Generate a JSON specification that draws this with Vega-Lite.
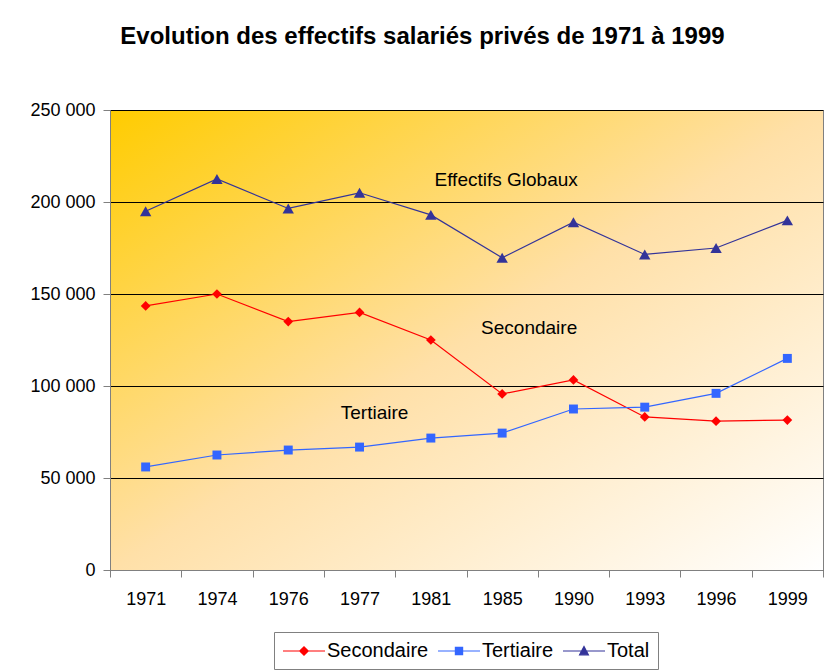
{
  "$schema": "https://vega.github.io/schema/vega-lite/v6.json",
  "width": 713,
  "height": 460,
  "autosize": {"type": "none"},
  "padding": {"left": 110, "top": 110, "right": 2, "bottom": 101},
  "background": "white",
  "config": {
    "font": "Liberation Sans",
    "locale": {"number": {"decimal": ",", "thousands": " ", "grouping": [3], "currency": ["", " €"]}},
    "view": {
      "stroke": "#808080",
      "strokeWidth": 1,
      "fill": {
        "gradient": "linear", "x1": 0, "y1": 0, "x2": 1, "y2": 1,
        "stops": [
          {"offset": 0, "color": "#FFCC00"},
          {"offset": 0.5, "color": "#FFE0A8"},
          {"offset": 1, "color": "#FFFFFF"}
        ]
      }
    },
    "axis": {
      "labelFont": "Liberation Sans", "labelFontSize": 18, "labelColor": "#000000",
      "domainColor": "#808080", "tickColor": "#808080", "tickSize": 7,
      "title": null
    }
  },
  "title": {
    "text": "Evolution des effectifs salariés privés de 1971 à 1999",
    "font": "Liberation Sans", "fontSize": 24, "fontWeight": "bold", "color": "#000000",
    "anchor": "middle", "dx": -44, "offset": 52
  },
  "data": {
    "values": [
      {"annee": "1971", "serie": "Secondaire", "valeur": 143500},
      {"annee": "1974", "serie": "Secondaire", "valeur": 150000},
      {"annee": "1976", "serie": "Secondaire", "valeur": 135000},
      {"annee": "1977", "serie": "Secondaire", "valeur": 140000},
      {"annee": "1981", "serie": "Secondaire", "valeur": 125000},
      {"annee": "1985", "serie": "Secondaire", "valeur": 95700},
      {"annee": "1990", "serie": "Secondaire", "valeur": 103300},
      {"annee": "1993", "serie": "Secondaire", "valeur": 83200},
      {"annee": "1996", "serie": "Secondaire", "valeur": 80900},
      {"annee": "1999", "serie": "Secondaire", "valeur": 81500},
      {"annee": "1971", "serie": "Tertiaire", "valeur": 56000},
      {"annee": "1974", "serie": "Tertiaire", "valeur": 62500},
      {"annee": "1976", "serie": "Tertiaire", "valeur": 65200},
      {"annee": "1977", "serie": "Tertiaire", "valeur": 66800},
      {"annee": "1981", "serie": "Tertiaire", "valeur": 71700},
      {"annee": "1985", "serie": "Tertiaire", "valeur": 74400},
      {"annee": "1990", "serie": "Tertiaire", "valeur": 87500},
      {"annee": "1993", "serie": "Tertiaire", "valeur": 88500},
      {"annee": "1996", "serie": "Tertiaire", "valeur": 96000},
      {"annee": "1999", "serie": "Tertiaire", "valeur": 115000},
      {"annee": "1971", "serie": "Total", "valeur": 195000},
      {"annee": "1974", "serie": "Total", "valeur": 212500},
      {"annee": "1976", "serie": "Total", "valeur": 196500},
      {"annee": "1977", "serie": "Total", "valeur": 205000},
      {"annee": "1981", "serie": "Total", "valeur": 193000},
      {"annee": "1985", "serie": "Total", "valeur": 169700},
      {"annee": "1990", "serie": "Total", "valeur": 189000},
      {"annee": "1993", "serie": "Total", "valeur": 171500},
      {"annee": "1996", "serie": "Total", "valeur": 175000},
      {"annee": "1999", "serie": "Total", "valeur": 190000}
    ]
  },
  "encoding": {
    "x": {
      "field": "annee", "type": "ordinal",
      "scale": {"type": "band", "paddingInner": 0, "paddingOuter": 0},
      "axis": {"labelAngle": 0, "tickBand": "extent", "labelPadding": 13, "grid": false}
    },
    "y": {
      "field": "valeur", "type": "quantitative",
      "scale": {"domain": [0, 250000], "nice": false},
      "axis": {"values": [0, 50000, 100000, 150000, 200000, 250000], "format": ",d", "grid": true, "gridColor": "#000000", "gridWidth": 1, "gridOpacity": 1, "labelPadding": 8}
    }
  },
  "layer": [
    {
      "mark": {"type": "line", "strokeWidth": 1.2},
      "encoding": {
        "color": {
          "field": "serie", "type": "nominal",
          "scale": {"domain": ["Secondaire", "Tertiaire", "Total"], "range": ["#FF0000", "#3366FF", "#333399"]},
          "legend": {
            "orient": "none", "legendX": 164, "legendY": 522, "direction": "horizontal",
            "title": null,
            "labelFont": "Liberation Sans", "labelFontSize": 20, "labelColor": "#000000",
            "labelOffset": 12, "symbolOffset": 11, "columnPadding": 6,
            "symbolSize": 400, "symbolStrokeWidth": 1.2,
            "padding": 8, "strokeColor": "#808080", "fillColor": "#FFFFFF",
            "encode": {
              "symbols": {
                "update": {
                  "shape": {"signal": "datum.value === 'Secondaire' ? 'M-2.1,0H2.1M-0.42,0L0,-0.42L0.42,0L0,0.42Z' : datum.value === 'Tertiaire' ? 'M-2.1,0H2.1M-0.36,-0.36H0.36V0.36H-0.36Z' : 'M-2.1,0H2.1M-0.44,0.38L0,-0.44L0.44,0.38Z'"},
                  "fill": {"scale": "color", "field": "value"},
                  "stroke": {"scale": "color", "field": "value"},
                  "strokeWidth": {"value": 1.2},
                  "opacity": {"value": 1}
                }
              }
            }
          }
        }
      }
    },
    {
      "transform": [{"filter": "datum.serie === 'Secondaire'"}],
      "mark": {"type": "point", "filled": true, "opacity": 1, "shape": "diamond", "size": 95, "color": "#FF0000"}
    },
    {
      "transform": [{"filter": "datum.serie === 'Tertiaire'"}],
      "mark": {"type": "point", "filled": true, "opacity": 1, "shape": "square", "size": 80, "color": "#3366FF"}
    },
    {
      "transform": [{"filter": "datum.serie === 'Total'"}],
      "mark": {"type": "point", "filled": true, "opacity": 1, "shape": "triangle-up", "size": 130, "color": "#333399"}
    },
    {
      "data": {"values": [{"texte": "Effectifs Globaux", "annee": "1985", "valeur": 212000}]},
      "mark": {"type": "text", "font": "Liberation Sans", "fontSize": 19, "color": "#000000", "baseline": "middle", "align": "center", "dx": 4},
      "encoding": {"text": {"field": "texte", "type": "nominal"}}
    },
    {
      "data": {"values": [{"texte": "Secondaire", "annee": "1985", "valeur": 131500}]},
      "mark": {"type": "text", "font": "Liberation Sans", "fontSize": 19, "color": "#000000", "baseline": "middle", "align": "center", "dx": 27},
      "encoding": {"text": {"field": "texte", "type": "nominal"}}
    },
    {
      "data": {"values": [{"texte": "Tertiaire", "annee": "1977", "valeur": 85500}]},
      "mark": {"type": "text", "font": "Liberation Sans", "fontSize": 19, "color": "#000000", "baseline": "middle", "align": "center", "dx": 15},
      "encoding": {"text": {"field": "texte", "type": "nominal"}}
    }
  ]
}
